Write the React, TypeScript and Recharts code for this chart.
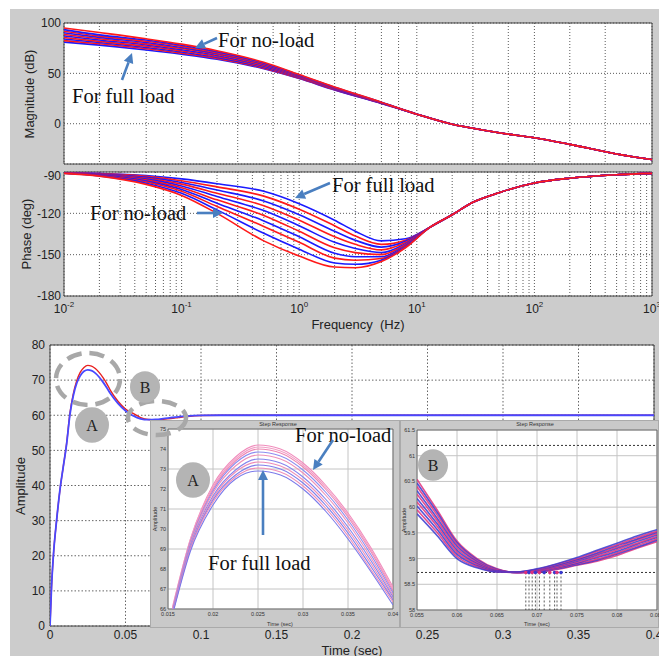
import React from 'react';
import {
  LineChart,
  Line,
  XAxis,
  YAxis,
  CartesianGrid,
  ReferenceLine,
  ReferenceArea,
  ReferenceDot,
} from 'recharts';

// ---------------- Bode magnitude (dB) ----------------
// rows run from full load (row 0) to no-load (row 9)
const MAG_FREQ_LOW = [0.01, 0.02, 0.05, 0.1, 0.2, 0.5, 1, 2, 5];
const MAG_LOW_DB = [
  [81.0, 78.0, 73.2, 69.0, 64.0, 54.5, 44.8, 33.5, 20.2],
  [82.5, 79.4, 74.4, 70.1, 64.9, 55.2, 45.2, 33.8, 20.3],
  [84.1, 80.6, 75.7, 71.2, 65.9, 55.9, 45.7, 34.1, 20.5],
  [85.6, 81.8, 76.9, 72.3, 66.8, 56.7, 46.1, 34.5, 20.6],
  [87.2, 83.1, 78.2, 73.4, 67.8, 57.4, 46.6, 34.8, 20.7],
  [88.7, 84.4, 79.3, 74.6, 68.7, 58.1, 47.0, 35.1, 20.9],
  [90.3, 85.7, 80.6, 75.7, 69.7, 58.9, 47.5, 35.5, 21.0],
  [91.8, 87.0, 81.8, 76.8, 70.6, 59.6, 47.9, 35.8, 21.1],
  [93.4, 88.2, 83.1, 77.9, 71.6, 60.3, 48.4, 36.1, 21.3],
  [95.0, 90.5, 84.3, 79.0, 72.5, 61.0, 48.8, 36.5, 21.4],
];
// above ~10 Hz every load case lies on the same curve
const MAG_FREQ_HIGH = [10, 20, 30, 50, 100, 200, 500, 1000];
const MAG_HIGH_DB = [9.5, -0.5, -4.5, -9, -14, -20.5, -30, -35.5];

// ---------------- Bode phase (deg) ----------------
const PHASE_FREQ_LOW = [0.01, 0.02, 0.05, 0.1, 0.2, 0.5, 1, 2, 3, 5, 8];
const PHASE_LOW_DEG = [
  [-90.5, -91.0, -92.5, -95.0, -98.5, -104.0, -113.0, -125.0, -133.0, -140.0, -138.5],
  [-90.5, -91.2, -93.2, -96.3, -100.8, -107.5, -117.0, -129.0, -136.5, -142.5, -139.5],
  [-90.6, -91.4, -93.9, -97.6, -103.1, -111.0, -121.0, -133.0, -139.5, -144.5, -140.3],
  [-90.6, -91.6, -94.5, -98.8, -105.4, -114.5, -125.0, -137.0, -142.5, -146.5, -141.2],
  [-90.7, -91.8, -95.2, -100.1, -107.8, -118.0, -129.0, -141.0, -145.5, -148.5, -142.0],
  [-90.7, -92.1, -95.9, -101.4, -110.2, -121.5, -133.0, -145.0, -148.5, -150.0, -142.8],
  [-90.8, -92.3, -96.6, -102.7, -112.6, -125.5, -137.0, -149.0, -151.5, -151.5, -143.5],
  [-90.8, -92.5, -97.3, -104.0, -115.0, -129.5, -141.0, -152.5, -154.0, -152.8, -144.1],
  [-90.9, -92.8, -98.1, -105.5, -117.5, -134.5, -146.0, -156.0, -157.0, -154.0, -144.6],
  [-91.0, -93.0, -99.0, -107.0, -120.0, -140.0, -151.0, -159.0, -159.5, -155.0, -145.0],
];
const PHASE_FREQ_HIGH = [13, 20, 30, 50, 100, 200, 500, 1000];
const PHASE_HIGH_DEG = [-130, -121, -112, -105, -98, -94.5, -92, -91];

const BODE_COLORS = [
  '#1a1aff', '#ff1a1a', '#1a1aff', '#ff1a1a', '#1a1aff',
  '#ff1a1a', '#1a1aff', '#ff1a1a', '#1a1aff', '#ff1a1a',
];

const DECADES = [0.01, 0.1, 1, 10, 100, 1000];
const DECADE_EXPONENTS = ['-2', '-1', '0', '1', '2', '3'];
const MAG_TICKS = [0, 50, 100];
const PHASE_TICKS = [-180, -150, -120, -90];

// ---------------- Step response ----------------
const T_MAIN = [
  0, 0.001, 0.0022, 0.0044, 0.0066, 0.0088, 0.011, 0.0132, 0.0155, 0.0177,
  0.02, 0.0225, 0.025, 0.0275, 0.03, 0.0325, 0.035, 0.0375, 0.04, 0.045,
  0.05, 0.055, 0.06, 0.065, 0.07, 0.075, 0.08, 0.085, 0.09, 0.1,
  0.12, 0.15, 0.2, 0.3, 0.4,
];
const STEP_NO_LOAD = [
  0, 11, 19.8, 30.2, 38.8, 45.4, 52.0, 60.6, 66.2, 69.8,
  72.2, 73.6, 74.2, 74.0, 73.3, 72.2, 70.8, 69.1, 67.1, 64.0,
  61.8, 60.54, 59.34, 58.8, 58.74, 58.87, 59.06, 59.33, 59.6, 59.93,
  60, 60, 60, 60, 60,
];
const STEP_FULL_LOAD = [
  0, 11, 19.8, 30.2, 38.8, 45.4, 51.8, 60.2, 65.7, 69.1,
  71.2, 72.5, 72.9, 72.7, 72.0, 70.9, 69.5, 67.9, 66.2, 63.4,
  61.3, 59.87, 59.0, 58.74, 58.8, 59.02, 59.3, 59.56, 59.75, 59.95,
  60, 60, 60, 60, 60,
];
const MAIN_T_TICKS = [0, 0.05, 0.1, 0.15, 0.2, 0.25, 0.3, 0.35, 0.4];
const MAIN_AMP_TICKS = [0, 10, 20, 30, 40, 50, 60, 70, 80];

// zoom A: the overshoot peak, no-load (row 0) down to full load (row 9)
const T_ZOOM_A = [0.0155, 0.0175, 0.02, 0.0225, 0.025, 0.0275, 0.03, 0.0325, 0.035, 0.0375, 0.04];
const PEAK_CURVES = [
  [66.1, 69.5, 72.2, 73.6, 74.2, 74.0, 73.3, 72.2, 70.8, 69.1, 67.1],
  [66.0, 69.5, 72.1, 73.5, 74.1, 73.9, 73.2, 72.1, 70.7, 69.0, 67.0],
  [65.95, 69.4, 72.0, 73.4, 74.0, 73.8, 73.1, 72.0, 70.6, 68.9, 66.9],
  [65.9, 69.35, 71.9, 73.3, 73.85, 73.65, 72.95, 71.85, 70.45, 68.75, 66.8],
  [65.9, 69.3, 71.8, 73.15, 73.7, 73.5, 72.8, 71.7, 70.3, 68.6, 66.7],
  [65.85, 69.2, 71.65, 72.95, 73.5, 73.3, 72.6, 71.5, 70.1, 68.45, 66.6],
  [65.8, 69.1, 71.55, 72.85, 73.35, 73.15, 72.45, 71.35, 69.95, 68.3, 66.5],
  [65.8, 69.05, 71.45, 72.7, 73.2, 73.0, 72.3, 71.2, 69.8, 68.15, 66.45],
  [65.75, 69.0, 71.35, 72.6, 73.05, 72.85, 72.15, 71.05, 69.65, 68.0, 66.35],
  [65.7, 68.9, 71.2, 72.5, 72.9, 72.7, 72.0, 70.9, 69.5, 67.9, 66.2],
];
const PEAK_COLORS = [
  '#f08cbc', '#f29ec6', '#ee86b2', '#8c8cf0', '#ef90b8',
  '#8484ee', '#ee8cb6', '#7e7eec', '#f08eb8', '#7a7aea',
];
const ZOOM_A_T_TICKS = [0.015, 0.02, 0.025, 0.03, 0.035, 0.04];
const ZOOM_A_AMP_TICKS = [66, 67, 68, 69, 70, 71, 72, 73, 74, 75];

// zoom B: the undershoot after the peak
const T_ZOOM_B = [0.055, 0.0575, 0.06, 0.0625, 0.065, 0.0675, 0.07, 0.0725, 0.075, 0.0775, 0.08, 0.0825, 0.085];
const DIP_CURVES = [
  [60.54, 59.95, 59.34, 59.0, 58.8, 58.73, 58.74, 58.79, 58.87, 58.95, 59.06, 59.2, 59.33],
  [60.47, 59.9, 59.31, 58.98, 58.79, 58.73, 58.74, 58.8, 58.88, 58.97, 59.09, 59.22, 59.36],
  [60.4, 59.85, 59.28, 58.96, 58.78, 58.73, 58.75, 58.81, 58.9, 58.99, 59.11, 59.25, 59.38],
  [60.32, 59.79, 59.24, 58.94, 58.77, 58.73, 58.75, 58.82, 58.91, 59.02, 59.14, 59.28, 59.41],
  [60.25, 59.74, 59.2, 58.92, 58.77, 58.73, 58.76, 58.83, 58.93, 59.04, 59.17, 59.3, 59.43],
  [60.17, 59.68, 59.16, 58.9, 58.76, 58.73, 58.77, 58.85, 58.95, 59.07, 59.2, 59.33, 59.46],
  [60.1, 59.63, 59.12, 58.88, 58.75, 58.73, 58.77, 58.86, 58.97, 59.09, 59.22, 59.36, 59.48],
  [60.02, 59.57, 59.08, 58.86, 58.75, 58.74, 58.78, 58.87, 58.98, 59.11, 59.25, 59.38, 59.51],
  [59.95, 59.51, 59.04, 58.84, 58.74, 58.74, 58.79, 58.89, 59.0, 59.14, 59.27, 59.41, 59.53],
  [59.87, 59.45, 59.0, 58.82, 58.74, 58.74, 58.8, 58.9, 59.02, 59.16, 59.3, 59.44, 59.56],
];
const DIP_COLORS = [
  '#e0307a', '#3838d0', '#e0307a', '#3838d0', '#e0307a',
  '#3838d0', '#e0307a', '#3838d0', '#e0307a', '#3838d0',
];
const DIP_MINIMUM = 58.73;
const DIP_UPPER_MARK = 61.2;
const DIP_TIMES = [0.0686, 0.069, 0.0694, 0.0698, 0.0703, 0.0709, 0.0716, 0.0722, 0.0725, 0.073];
const ZOOM_B_T_TICKS = [0.055, 0.06, 0.065, 0.07, 0.075, 0.08, 0.085];
const ZOOM_B_AMP_TICKS = [58, 58.5, 59, 59.5, 60, 60.5, 61, 61.5];

// ---------------- tables for the charts ----------------
const buildTable = (lowX: number[], lowY: number[][], highX: number[], highY: number[], key: string) =>
  [...lowX, ...highX].map((x, i) => {
    const row: Record<string, number> = { x };
    lowY.forEach((curve, k) => {
      row[key + k] = i < lowX.length ? curve[i] : highY[i - lowX.length];
    });
    return row;
  });

const magTable = buildTable(MAG_FREQ_LOW, MAG_LOW_DB, MAG_FREQ_HIGH, MAG_HIGH_DB, 'c');
const phaseTable = buildTable(PHASE_FREQ_LOW, PHASE_LOW_DEG, PHASE_FREQ_HIGH, PHASE_HIGH_DEG, 'c');
const stepTable = T_MAIN.map((t, i) => ({ t, noLoad: STEP_NO_LOAD[i], fullLoad: STEP_FULL_LOAD[i] }));
const peakTable = T_ZOOM_A.map((t, i) => {
  const row: Record<string, number> = { t };
  PEAK_CURVES.forEach((c, k) => (row['c' + k] = c[i]));
  return row;
});
const dipTable = T_ZOOM_B.map((t, i) => {
  const row: Record<string, number> = { t };
  DIP_CURVES.forEach((c, k) => (row['c' + k] = c[i]));
  return row;
});

// grid lines at every 1..9 multiple of each decade
const LOG_GRID_TICKS: number[] = [];
DECADES.slice(0, -1).forEach((d) => {
  for (let m = 1; m <= 9; m++) LOG_GRID_TICKS.push(m === 1 ? d : Number((m * d).toPrecision(3)));
});
LOG_GRID_TICKS.push(DECADES[DECADES.length - 1]);

const SANS = '"Liberation Sans", Arial, Helvetica, sans-serif';
const SERIF = '"Liberation Serif", "Times New Roman", serif';
const FIG_GRAY = '#cccccc';
const ARROW_BLUE = '#4a7fc0';

const DecadeTick = (props: any) => {
  const { x, y, payload } = props;
  const idx = DECADES.indexOf(payload.value);
  if (idx < 0) return <g />;
  return (
    <text x={x} y={y} textAnchor="middle" fontSize={12} fill="#222" fontFamily={SANS}>
      <tspan dy={11}>10</tspan>
      <tspan dy={-6} fontSize={8}>
        {DECADE_EXPONENTS[idx]}
      </tspan>
    </text>
  );
};

const Arrow = ({ x1, y1, x2, y2 }: { x1: number; y1: number; x2: number; y2: number }) => {
  const a = Math.atan2(y2 - y1, x2 - x1);
  const len = 10;
  const half = 5;
  const bx = x2 - len * Math.cos(a);
  const by = y2 - len * Math.sin(a);
  const px = -Math.sin(a) * half;
  const py = Math.cos(a) * half;
  return (
    <g>
      <line x1={x1} y1={y1} x2={bx} y2={by} stroke={ARROW_BLUE} strokeWidth={2.6} />
      <polygon points={`${x2},${y2} ${bx + px},${by + py} ${bx - px},${by - py}`} fill={ARROW_BLUE} />
    </g>
  );
};

const Badge = ({ cx, cy, r, label }: { cx: number; cy: number; r: number; label: string }) => (
  <g>
    <ellipse cx={cx} cy={cy} rx={r} ry={r * 1.05} fill="#b4b4b4" />
    <text x={cx} y={cy + 5.5} textAnchor="middle" fontSize={16} fontFamily={SERIF} fill="#222">
      {label}
    </text>
  </g>
);

const tickStyle = { fontSize: 12, fill: '#222', fontFamily: SANS };
const tinyTick = { fontSize: 5.5, fill: '#333', fontFamily: SANS };

export default function App() {
  return (
    <div style={{ position: 'absolute', left: 0, top: 0, width: 659, height: 656, background: '#fff', overflow: 'hidden' }}>
      <div style={{ position: 'absolute', left: 10, top: 9, width: 649, height: 647, background: FIG_GRAY }} />

      {/* magnitude */}
      <div style={{ position: 'absolute', left: 10, top: 9 }}>
        <LineChart width={649} height={159} data={magTable} margin={{ top: 14, right: 7, bottom: 4, left: 0 }}>
          <CartesianGrid fill="#fff" stroke="#5a5a5a" strokeDasharray="1 2" />
          <XAxis dataKey="x" type="number" scale="log" domain={[0.01, 1000]} ticks={LOG_GRID_TICKS} allowDataOverflow hide />
          <YAxis type="number" domain={[-40, 100]} ticks={MAG_TICKS} width={54} tickLine={false} axisLine={false} tickSize={1} tickMargin={2} tick={tickStyle} allowDataOverflow />
          {MAG_LOW_DB.map((_, k) => (
            <Line key={k} dataKey={'c' + k} type="monotone" stroke={BODE_COLORS[k]} strokeWidth={1.6} dot={false} isAnimationActive={false} />
          ))}
          <ReferenceArea x1={0.01} x2={1000} y1={-40} y2={100} fill="none" stroke="#444" strokeWidth={1} />
        </LineChart>
      </div>

      {/* phase */}
      <div style={{ position: 'absolute', left: 10, top: 168 }}>
        <LineChart width={649} height={168} data={phaseTable} margin={{ top: 4, right: 7, bottom: 0, left: 0 }}>
          <CartesianGrid fill="#fff" stroke="#5a5a5a" strokeDasharray="1 2" />
          <XAxis dataKey="x" type="number" scale="log" domain={[0.01, 1000]} ticks={LOG_GRID_TICKS} allowDataOverflow height={40} tickLine={false} axisLine={false} tickSize={4} tickMargin={2} tick={<DecadeTick />} interval={0} />
          <YAxis type="number" domain={[-180, -90]} ticks={PHASE_TICKS} width={54} tickLine={false} axisLine={false} tickSize={1} tickMargin={2} tick={tickStyle} allowDataOverflow />
          {PHASE_LOW_DEG.map((_, k) => (
            <Line key={k} dataKey={'c' + k} type="monotone" stroke={BODE_COLORS[k]} strokeWidth={1.6} dot={false} isAnimationActive={false} />
          ))}
          <ReferenceArea x1={0.01} x2={1000} y1={-180} y2={-90} fill="none" stroke="#444" strokeWidth={1} />
        </LineChart>
      </div>

      {/* step response */}
      <div style={{ position: 'absolute', left: 10, top: 336 }}>
        <LineChart width={649} height={320} data={stepTable} margin={{ top: 9, right: 5, bottom: 0, left: 0 }}>
          <CartesianGrid fill="#fff" stroke="#666" strokeDasharray="1.5 2" />
          <XAxis dataKey="t" type="number" domain={[0, 0.4]} ticks={MAIN_T_TICKS} height={30} tickLine={false} axisLine={false} tickSize={2} tickMargin={2} tick={tickStyle} interval={0} allowDataOverflow />
          <YAxis type="number" domain={[0, 80]} ticks={MAIN_AMP_TICKS} width={40} tickLine={false} axisLine={false} tickSize={2} tickMargin={3} tick={tickStyle} allowDataOverflow />
          <Line dataKey="noLoad" type="monotone" stroke="#e82020" strokeWidth={1.4} dot={false} isAnimationActive={false} />
          <Line dataKey="fullLoad" type="monotone" stroke="#4848ff" strokeWidth={1.8} dot={false} isAnimationActive={false} />
          <ReferenceArea x1={0} x2={0.4} y1={0} y2={80} fill="none" stroke="#444" strokeWidth={1} />
        </LineChart>
      </div>

      {/* zoom A */}
      <div style={{ position: 'absolute', left: 150, top: 420, width: 250, height: 208, background: '#c9c9c9', boxShadow: 'inset 0 0 0 1px #aaa' }}>
        <LineChart width={250} height={208} data={peakTable} margin={{ top: 9, right: 7, bottom: 0, left: 0 }}>
          <CartesianGrid fill="#fff" stroke="#c4c4c4" />
          <XAxis dataKey="t" type="number" domain={[0.015, 0.04]} ticks={ZOOM_A_T_TICKS} height={19} tickLine={false} axisLine={false} tickSize={1} tickMargin={2} tick={tinyTick} interval={0} allowDataOverflow />
          <YAxis type="number" domain={[66, 75]} ticks={ZOOM_A_AMP_TICKS} width={18} tickLine={false} axisLine={false} tickSize={1} tickMargin={1} tick={tinyTick} allowDataOverflow />
          {PEAK_CURVES.map((_, k) => (
            <Line key={k} dataKey={'c' + k} type="monotone" stroke={PEAK_COLORS[k]} strokeWidth={1.1} dot={false} isAnimationActive={false} />
          ))}
          <ReferenceArea x1={0.015} x2={0.04} y1={66} y2={75} fill="none" stroke="#555" strokeWidth={0.8} />
        </LineChart>
      </div>

      {/* zoom B */}
      <div style={{ position: 'absolute', left: 400, top: 420, width: 259, height: 208, background: '#c9c9c9', boxShadow: 'inset 0 0 0 1px #aaa' }}>
        <LineChart width={259} height={208} data={dipTable} margin={{ top: 10, right: 2, bottom: 0, left: 0 }}>
          <CartesianGrid fill="#fff" stroke="#c4c4c4" />
          <XAxis dataKey="t" type="number" domain={[0.055, 0.085]} ticks={ZOOM_B_T_TICKS} height={18} tickLine={false} axisLine={false} tickSize={1} tickMargin={2} tick={tinyTick} interval={0} allowDataOverflow />
          <YAxis type="number" domain={[58, 61.5]} ticks={ZOOM_B_AMP_TICKS} width={17} tickLine={false} axisLine={false} tickSize={1} tickMargin={1} tick={tinyTick} allowDataOverflow />
          <ReferenceLine y={DIP_UPPER_MARK} stroke="#333" strokeDasharray="2 2" />
          <ReferenceLine y={DIP_MINIMUM} stroke="#333" strokeDasharray="2 2" />
          {DIP_TIMES.map((t) => (
            <ReferenceLine key={'v' + t} segment={[{ x: t, y: DIP_MINIMUM }, { x: t, y: 58 }]} stroke="#333" strokeDasharray="2 2" strokeWidth={0.8} />
          ))}
          {DIP_CURVES.map((_, k) => (
            <Line key={k} dataKey={'c' + k} type="monotone" stroke={DIP_COLORS[k]} strokeWidth={1.6} strokeOpacity={0.85} dot={false} isAnimationActive={false} />
          ))}
          {DIP_TIMES.map((t, k) => (
            <ReferenceDot key={'d' + t} x={t} y={DIP_MINIMUM} r={1.8} fill={DIP_COLORS[k]} stroke="none" />
          ))}
          <ReferenceArea x1={0.055} x2={0.085} y1={58} y2={61.5} fill="none" stroke="#555" strokeWidth={0.8} />
        </LineChart>
      </div>

      {/* titles, callouts and markers */}
      <svg width={659} height={656} style={{ position: 'absolute', left: 0, top: 0, pointerEvents: 'none' }}>
        <g fontFamily={SANS} fill="#222" fontSize={13}>
          <text transform="translate(34,94) rotate(-90)" textAnchor="middle">Magnitude (dB)</text>
          <text transform="translate(31,234) rotate(-90)" textAnchor="middle">Phase (deg)</text>
          <text transform="translate(25,486) rotate(-90)" textAnchor="middle">Amplitude</text>
          <text x={358} y={329} textAnchor="middle" xmlSpace="preserve">Frequency  (Hz)</text>
          <text x={352} y={655} textAnchor="middle">Time (sec)</text>
        </g>

        <g fontFamily={SANS} fill="#333" fontSize={5.5} textAnchor="middle">
          <text x={278} y={426}>Step Response</text>
          <text x={535} y={426}>Step Response</text>
          <text x={280} y={626}>Time (sec)</text>
          <text x={537} y={626}>Time (sec)</text>
          <text transform="translate(157,519) rotate(-90)">Amplitude</text>
          <text transform="translate(406,520) rotate(-90)">Amplitude</text>
        </g>

        <g fontFamily={SERIF} fill="#111" fontSize={20.5}>
          <text x={218} y={47}>For no-load</text>
          <text x={72} y={103}>For full load</text>
          <text x={332} y={192}>For full load</text>
          <text x={90} y={220}>For no-load</text>
          <text x={295} y={442}>For no-load</text>
          <text x={208} y={570}>For full load</text>
        </g>
        <Arrow x1={217} y1={38} x2={195} y2={48} />
        <Arrow x1={122} y1={80} x2={132} y2={53} />
        <Arrow x1={330} y1={183} x2={295} y2={198} />
        <Arrow x1={197} y1={213} x2={223} y2={213} />
        <Arrow x1={333} y1={440} x2={313} y2={470} />
        <Arrow x1={263} y1={535} x2={263} y2={470} />

        <g fill="none" stroke="#a8a8a8" strokeWidth={4.5} strokeDasharray="15 8">
          <ellipse cx={88} cy={379} rx={32} ry={26} />
          <ellipse cx={157} cy={418} rx={29} ry={17} />
        </g>
        <Badge cx={92} cy={425} r={17} label="A" />
        <Badge cx={145} cy={387} r={15} label="B" />
        <Badge cx={193} cy={480} r={17} label="A" />
        <Badge cx={433} cy={465} r={15} label="B" />
      </svg>
    </div>
  );
}
